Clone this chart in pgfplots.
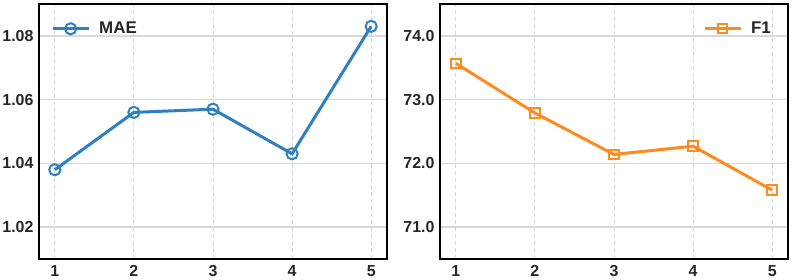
\documentclass[border=0pt]{standalone}
\usepackage{pgfplots}
\pgfplotsset{compat=1.18}
\usepackage{fontspec}
\setmainfont{Liberation Sans}
\definecolor{cblue}{HTML}{2F80BF}
\definecolor{corange}{HTML}{FF8A1E}
\definecolor{txt}{HTML}{262626}
\definecolor{gridc}{HTML}{D9D9D9}
\pgfplotsset{
  myax/.style={
    scale only axis, width=348bp, height=255bp,
    xmin=0.8, xmax=5.2, xtick={1,2,3,4,5},
    axis line style={black, line width=1.6bp},
    major tick length=0pt,
    grid=major,
    x grid style={gridc, dash pattern=on 4bp off 3bp, line width=0.9bp},
    y grid style={gridc, line width=1.4bp},
    tick label style={font=\fontsize{16}{17}\selectfont\bfseries, text=txt},
    /pgf/number format/assume math mode=true,
    xticklabel style={yshift=-3bp},
    yticklabel style={xshift=-2bp},
    legend style={draw=none, fill=none, font=\fontsize{17}{18}\selectfont\bfseries, text=txt,
      /tikz/every odd column/.append style={column sep=7bp}},
    legend image code/.code={\draw[mark repeat=2,mark phase=2] plot coordinates {(0bp,0bp)(18bp,0bp)(36bp,0bp)};},
    legend cell align=left,
  }
}
\begin{document}
\begin{tikzpicture}
\begin{axis}[myax, at={(0bp,0bp)}, anchor=south west,
  ymin=1.01, ymax=1.09, ytick={1.02,1.04,1.06,1.08},
  yticklabel style={/pgf/number format/.cd, fixed, fixed zerofill, precision=2},
  legend style={at={(axis description cs:0,1)}, anchor=north west, xshift=9bp, yshift=-14bp}]
\addplot[cblue, line width=3bp, mark=o, mark size=5.6bp,
  mark options={line width=2bp, fill=cblue!8!white}]
  coordinates {(1,1.038) (2,1.056) (3,1.057) (4,1.043) (5,1.083)};
\addlegendentry{MAE}
\end{axis}
\begin{axis}[myax, at={(401bp,0bp)}, anchor=south west,
  ymin=70.5, ymax=74.5, ytick={71,72,73,74},
  yticklabel style={/pgf/number format/.cd, fixed, fixed zerofill, precision=1},
  legend style={at={(axis description cs:1,1)}, anchor=north east, xshift=-12bp, yshift=-14bp}]
\addplot[corange, line width=3bp, mark=square, mark size=4.7bp,
  mark options={line width=2bp, fill=corange!8!white}]
  coordinates {(1,73.57) (2,72.79) (3,72.14) (4,72.27) (5,71.58)};
\addlegendentry{F1}
\end{axis}
\pgfresetboundingbox
\path[use as bounding box] (-39bp,-21bp) rectangle (754bp,259bp);
\end{tikzpicture}
\end{document}
